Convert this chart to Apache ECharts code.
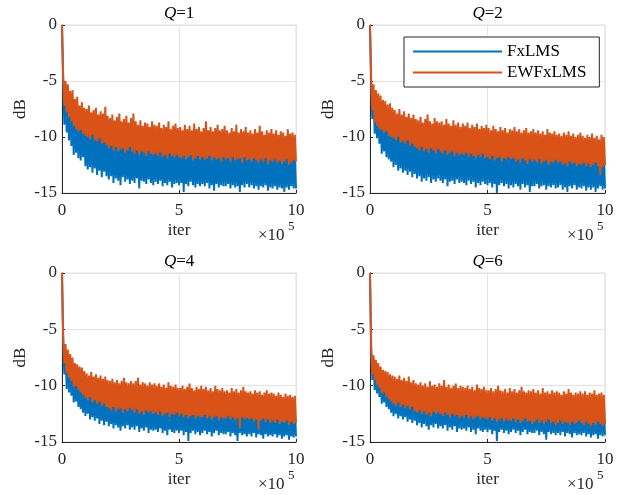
<!DOCTYPE html>
<html>
<head>
<meta charset="utf-8">
<script src="https://cdn.jsdelivr.net/npm/echarts@6/dist/echarts.min.js"></script>
<style>html,body{margin:0;padding:0;background:#fff;}#c{width:633px;height:495px;}</style>
</head>
<body>
<div id="c"></div>
<script>
// iteration (in thousands) for every sample
const iterK = [
0,5,10,15,20,25,30,35,40,45,50,55,60,65,70,75,80,85,90,95,
100,105,110,115,120,125,130,135,140,145,150,155,160,165,170,175,180,185,190,195,
200,205,210,215,220,225,230,235,240,245,250,255,260,265,270,275,280,285,290,295,
300,305,310,315,320,325,330,335,340,345,350,355,360,365,370,375,380,385,390,395,
400,405,410,415,420,425,430,435,440,445,450,455,460,465,470,475,480,485,490,495,
500,505,510,515,520,525,530,535,540,545,550,555,560,565,570,575,580,585,590,595,
600,605,610,615,620,625,630,635,640,645,650,655,660,665,670,675,680,685,690,695,
700,705,710,715,720,725,730,735,740,745,750,755,760,765,770,775,780,785,790,795,
800,805,810,815,820,825,830,835,840,845,850,855,860,865,870,875,880,885,890,895,
900,905,910,915,920,925,930,935,940,945,950,955,960,965,970,975,980,985,990,995,
1000];

const titles = ['Q=1','Q=2','Q=4','Q=6'];
const seriesNames = ['FxLMS','EWFxLMS'];
const xTicks = [0,5,10];
const yTicks = [0,-5,-10,-15];

const fx_Q1 = [
0,-5.0,-8.9,-5.7,-9.6,-6.2,-10.3,-6.8,-10.8,-7.2,-11.6,-7.6,-11.4,-7.9,-11.9,-8.1,-12.1,-8.4,-11.8,-8.7,
-12.6,-9.1,-12.9,-9.3,-12.7,-9.0,-13.2,-9.4,-12.8,-9.6,-13.4,-9.3,-13.0,-9.7,-13.6,-9.5,-13.1,-9.9,-13.5,-9.8,
-13.8,-10.1,-13.5,-10.3,-14.1,-10.0,-13.7,-10.4,-13.9,-10.2,-14.3,-10.5,-13.6,-10.3,-14.0,-10.1,-13.8,-10.6,-14.2,-10.4,
-13.9,-10.5,-14.1,-10.7,-13.7,-10.4,-14.6,-10.8,-13.9,-10.6,-14.0,-10.5,-14.2,-10.9,-13.8,-10.7,-14.1,-10.6,-14.3,-10.8,
-14.0,-10.7,-14.2,-10.9,-13.9,-10.8,-14.4,-10.6,-14.1,-11.0,-14.3,-10.8,-14.0,-10.9,-14.5,-10.7,-14.2,-11.0,-14.1,-10.9,
-14.3,-11.0,-14.1,-10.8,-14.9,-11.1,-14.2,-10.9,-14.4,-11.2,-14.0,-11.0,-14.3,-10.8,-14.5,-11.1,-14.2,-11.0,-14.4,-11.2,
-14.2,-11.0,-14.4,-11.2,-14.1,-10.9,-14.6,-11.1,-14.3,-11.3,-14.8,-11.0,-14.2,-11.2,-14.5,-11.1,-14.3,-11.3,-14.4,-11.0,
-14.4,-11.2,-14.2,-11.4,-14.6,-11.1,-14.3,-11.3,-14.5,-11.0,-14.4,-11.2,-14.9,-11.4,-14.3,-11.1,-14.5,-11.3,-14.2,-11.2,
-14.5,-11.3,-14.3,-11.1,-14.6,-11.4,-14.4,-11.2,-14.7,-11.3,-14.4,-11.5,-14.5,-11.2,-14.3,-11.4,-14.8,-11.3,-14.5,-11.1,
-14.6,-11.4,-14.4,-11.3,-14.7,-11.5,-14.5,-11.2,-14.6,-11.4,-14.9,-11.5,-14.5,-11.3,-14.7,-11.6,-14.4,-11.4,-14.6,-11.5,
-14.6];

const ewfx_Q1 = [
0,-4.5,-7.2,-5.0,-7.8,-5.3,-8.2,-5.9,-8.6,-5.8,-9.0,-6.6,-9.3,-6.4,-9.5,-7.2,-9.4,-6.9,-9.7,-7.4,
-9.9,-7.5,-10.0,-7.2,-10.2,-7.8,-9.8,-7.6,-10.3,-7.4,-10.4,-8.0,-10.1,-7.7,-10.6,-7.9,-10.5,-7.3,-10.7,-8.1,
-11.0,-8.3,-10.8,-8.0,-11.2,-8.5,-10.9,-8.2,-11.3,-7.9,-11.1,-8.6,-11.0,-8.4,-11.4,-8.1,-11.2,-8.7,-10.9,-8.3,
-11.3,-7.9,-11.5,-8.6,-11.2,-8.9,-11.6,-8.5,-11.3,-9.0,-11.4,-8.7,-11.7,-8.8,-11.3,-9.1,-11.5,-8.6,-11.6,-8.9,
-11.5,-9.0,-11.7,-8.7,-11.4,-9.2,-11.8,-8.9,-11.6,-9.1,-11.9,-8.6,-11.5,-9.3,-11.7,-9.0,-11.8,-8.8,-11.6,-9.2,
-11.8,-9.1,-11.9,-9.4,-11.7,-8.9,-12.0,-9.3,-11.8,-9.0,-11.6,-9.4,-12.1,-8.8,-11.9,-9.3,-11.7,-9.1,-12.0,-9.5,
-11.8,-9.2,-12.0,-8.6,-11.9,-9.4,-11.7,-9.1,-12.1,-9.5,-11.8,-9.2,-12.0,-8.9,-11.9,-9.4,-12.2,-9.3,-11.8,-9.0,
-12.0,-9.4,-11.9,-9.6,-12.2,-9.2,-11.8,-9.5,-12.1,-8.9,-12.0,-9.6,-11.9,-9.3,-12.3,-9.5,-11.8,-9.1,-12.1,-9.6,
-12.0,-9.4,-12.2,-9.7,-11.9,-9.3,-12.1,-9.6,-12.3,-9.0,-12.0,-9.5,-12.2,-9.8,-11.9,-9.4,-12.4,-9.6,-12.1,-9.3,
-12.2,-9.7,-12.0,-9.4,-12.3,-9.8,-12.1,-9.5,-12.4,-9.6,-12.2,-9.9,-12.0,-9.3,-12.5,-9.7,-12.3,-9.6,-12.1,-9.8,
-12.2];

const fx_Q2 = [
0,-5.5,-8.4,-6.2,-9.7,-6.9,-10.1,-7.3,-10.6,-7.7,-11.5,-8.2,-11.3,-8.5,-11.8,-8.7,-12.0,-8.9,-12.2,-9.1,
-12.7,-9.3,-12.5,-9.0,-13.0,-9.4,-12.8,-9.6,-13.2,-9.5,-13.0,-9.8,-13.4,-9.6,-13.1,-9.9,-13.6,-10.0,-13.3,-10.1,
-13.7,-10.2,-13.5,-10.0,-14.0,-10.3,-13.7,-10.4,-13.9,-10.2,-13.6,-10.5,-14.1,-10.3,-13.8,-10.6,-14.0,-10.4,-13.7,-10.5,
-13.9,-10.6,-14.1,-10.4,-13.8,-10.7,-14.4,-10.5,-14.0,-10.8,-13.9,-10.6,-14.2,-10.7,-13.8,-10.9,-14.1,-10.6,-14.0,-10.8,
-14.1,-10.7,-14.3,-10.9,-13.9,-10.8,-14.2,-11.0,-14.0,-10.8,-14.5,-10.9,-14.1,-11.0,-14.3,-10.7,-14.0,-11.1,-14.2,-10.9,
-14.3,-11.0,-14.1,-11.2,-14.5,-10.9,-14.2,-11.1,-15.0,-11.0,-14.3,-11.2,-14.1,-11.1,-14.4,-11.3,-14.2,-11.0,-14.6,-11.2,
-14.3,-11.2,-14.5,-11.0,-14.2,-11.3,-14.4,-11.1,-14.7,-11.3,-14.2,-11.2,-14.5,-11.4,-14.3,-11.1,-14.9,-11.3,-14.4,-11.2,
-14.4,-11.3,-14.2,-11.5,-14.6,-11.2,-14.4,-11.4,-14.3,-11.3,-14.7,-11.5,-14.4,-11.2,-14.5,-11.4,-14.3,-11.6,-14.6,-11.3,
-14.5,-11.4,-14.3,-11.6,-14.7,-11.3,-14.5,-11.5,-14.9,-11.4,-14.4,-11.6,-14.6,-11.5,-14.3,-11.7,-14.7,-11.4,-14.5,-11.6,
-14.6,-11.5,-14.4,-11.7,-14.8,-11.6,-14.5,-11.4,-14.7,-11.7,-14.5,-11.6,-14.9,-11.5,-14.6,-11.8,-14.4,-11.6,-14.7,-11.7,
-14.6];

const ewfx_Q2 = [
0,-4.8,-7.6,-5.3,-8.7,-5.8,-9.0,-6.1,-9.3,-6.3,-9.4,-6.7,-9.6,-6.8,-9.5,-7.1,-9.9,-7.0,-10.0,-7.4,
-10.1,-7.6,-10.3,-7.9,-10.0,-7.5,-10.5,-8.0,-10.4,-7.7,-10.6,-8.2,-10.3,-7.9,-10.8,-8.3,-10.6,-8.0,-10.9,-8.4,
-11.0,-8.5,-11.2,-8.2,-10.9,-8.7,-11.3,-8.4,-11.1,-8.0,-11.4,-8.6,-11.0,-8.8,-11.2,-8.3,-11.5,-8.6,-11.1,-8.7,
-11.3,-8.6,-11.5,-8.9,-11.2,-8.4,-11.6,-8.8,-11.4,-9.0,-11.3,-8.5,-11.7,-8.9,-11.4,-8.7,-11.6,-9.1,-11.5,-8.8,
-11.6,-9.0,-11.4,-8.7,-11.8,-9.2,-11.5,-8.9,-11.7,-9.1,-11.9,-8.8,-11.6,-9.3,-11.8,-9.0,-11.5,-9.2,-11.9,-8.9,
-11.8,-9.2,-12.0,-9.4,-11.7,-9.0,-12.1,-9.3,-11.9,-9.5,-11.8,-9.1,-12.2,-9.4,-11.9,-9.2,-12.0,-9.6,-11.8,-9.3,
-12.0,-9.4,-11.9,-9.1,-12.2,-9.5,-12.0,-9.3,-12.3,-9.6,-11.9,-9.4,-12.1,-9.2,-12.4,-9.6,-12.0,-9.5,-12.2,-9.3,
-12.1,-9.6,-12.3,-9.4,-12.0,-9.7,-12.4,-9.5,-12.2,-9.8,-12.1,-9.3,-12.5,-9.6,-12.2,-9.7,-12.3,-9.5,-12.1,-9.8,
-12.3,-9.7,-12.2,-9.9,-12.5,-9.6,-12.3,-9.8,-12.6,-9.5,-12.2,-9.9,-12.4,-9.7,-12.3,-10.0,-12.6,-9.8,-12.4,-9.6,
-12.5,-9.9,-12.3,-10.1,-12.6,-9.8,-12.4,-10.0,-12.7,-9.7,-12.5,-10.1,-12.3,-9.9,-12.6,-10.2,-13.4,-9.8,-12.7,-10.0,
-12.5];

const fx_Q4 = [
0,-6.0,-9.0,-6.9,-10.3,-7.5,-10.6,-8.0,-10.9,-8.3,-11.5,-8.8,-11.4,-9.0,-11.9,-9.3,-12.1,-9.5,-12.4,-9.7,
-12.7,-9.9,-12.5,-10.0,-13.0,-10.2,-12.8,-10.1,-13.1,-10.4,-12.9,-10.3,-13.4,-10.5,-13.1,-10.6,-13.5,-10.5,-13.2,-10.7,
-13.6,-10.8,-13.4,-10.9,-13.8,-10.7,-13.5,-11.0,-13.7,-10.9,-14.0,-11.0,-13.6,-11.1,-13.8,-10.9,-13.5,-11.1,-13.9,-11.2,
-13.7,-11.1,-13.9,-11.3,-13.6,-11.2,-14.1,-11.0,-13.8,-11.3,-14.0,-11.2,-13.7,-11.4,-14.2,-11.3,-13.9,-11.2,-14.0,-11.4,
-13.9,-11.3,-14.1,-11.5,-13.8,-11.4,-14.2,-11.3,-14.0,-11.5,-14.4,-11.4,-13.9,-11.6,-14.1,-11.5,-14.2,-11.4,-14.0,-11.6,
-14.2,-11.6,-14.0,-11.5,-14.4,-11.7,-14.1,-11.6,-14.9,-11.5,-14.2,-11.7,-14.0,-11.6,-14.3,-11.8,-14.1,-11.7,-14.4,-11.6,
-14.2,-11.8,-14.0,-11.7,-14.3,-11.9,-14.1,-11.8,-14.5,-11.7,-14.2,-11.9,-14.0,-11.8,-14.4,-12.0,-14.2,-11.8,-14.3,-11.9,
-14.3,-11.9,-14.1,-12.0,-14.5,-11.9,-14.2,-12.1,-14.4,-11.9,-14.9,-12.0,-14.2,-12.1,-14.4,-11.9,-14.3,-12.0,-14.5,-12.1,
-14.3,-12.0,-14.5,-12.1,-14.2,-12.2,-14.6,-12.0,-14.3,-12.1,-14.4,-12.2,-14.7,-12.1,-14.3,-12.2,-14.5,-12.0,-14.4,-12.2,
-14.5,-12.2,-14.3,-12.3,-14.6,-12.1,-14.4,-12.3,-14.7,-12.2,-14.5,-12.3,-14.4,-12.2,-14.8,-12.4,-14.5,-12.3,-14.6,-12.2,
-14.5];

const ewfx_Q4 = [
0,-5.5,-8.0,-6.3,-8.9,-6.8,-9.3,-7.2,-9.6,-7.5,-10.1,-8.0,-10.0,-8.1,-10.4,-8.3,-10.6,-8.4,-10.8,-8.7,
-11.1,-8.9,-11.3,-9.1,-11.0,-8.8,-11.5,-9.2,-11.3,-9.0,-11.6,-9.3,-11.4,-9.1,-11.8,-9.4,-11.6,-9.2,-11.9,-9.5,
-12.0,-9.6,-12.2,-9.4,-11.9,-9.7,-12.3,-9.5,-12.1,-9.8,-12.0,-9.6,-12.4,-9.3,-12.1,-9.7,-12.3,-9.8,-12.0,-9.6,
-12.2,-9.8,-12.4,-9.6,-12.1,-9.3,-12.5,-9.9,-12.3,-9.7,-12.6,-9.8,-12.2,-10.0,-12.4,-9.7,-12.3,-9.9,-12.5,-9.8,
-12.4,-10.0,-12.6,-9.8,-12.3,-10.1,-12.7,-9.9,-12.5,-10.2,-12.4,-9.7,-12.8,-10.0,-12.5,-10.1,-12.6,-9.9,-12.4,-10.2,
-12.7,-10.2,-12.5,-10.0,-12.8,-10.3,-12.6,-10.1,-12.9,-9.8,-12.7,-10.2,-12.6,-10.4,-12.9,-10.1,-12.7,-10.3,-12.8,-10.0,
-12.8,-10.3,-12.6,-10.1,-12.9,-10.4,-12.7,-10.2,-13.0,-10.5,-12.8,-10.0,-12.7,-10.3,-13.1,-10.4,-12.8,-10.2,-12.9,-10.5,
-12.9,-10.4,-12.7,-10.6,-13.0,-10.2,-12.8,-10.5,-13.1,-10.3,-12.9,-10.6,-13.8,-10.4,-12.8,-10.1,-13.0,-10.5,-12.9,-10.6,
-13.0,-10.5,-12.9,-10.7,-13.2,-10.4,-13.0,-10.6,-13.9,-10.5,-13.1,-10.8,-12.9,-10.6,-13.2,-10.4,-13.0,-10.7,-13.3,-10.6,
-13.1,-10.7,-13.3,-10.9,-13.0,-10.6,-13.4,-10.8,-13.2,-11.0,-13.3,-10.7,-13.1,-10.9,-13.5,-10.8,-13.2,-11.0,-13.4,-10.9,
-13.3];

const fx_Q6 = [
0,-7.0,-9.5,-7.7,-10.4,-8.2,-10.7,-8.6,-11.0,-8.9,-11.6,-9.3,-11.5,-9.5,-11.9,-9.7,-12.1,-9.9,-12.4,-10.0,
-12.7,-10.2,-12.5,-10.3,-12.9,-10.4,-12.7,-10.5,-13.0,-10.6,-12.8,-10.5,-13.2,-10.7,-13.0,-10.8,-13.3,-10.7,-13.1,-10.9,
-13.5,-11.0,-13.3,-10.9,-13.7,-11.1,-13.4,-11.0,-13.6,-11.2,-13.9,-11.1,-13.5,-11.0,-13.7,-11.2,-13.4,-11.1,-13.8,-11.2,
-13.6,-11.1,-13.8,-11.3,-13.5,-11.2,-14.0,-11.1,-13.7,-11.3,-13.9,-11.2,-13.6,-11.3,-14.1,-11.2,-13.8,-11.4,-13.9,-11.3,
-13.8,-11.3,-14.0,-11.4,-13.7,-11.3,-14.1,-11.4,-13.9,-11.5,-14.3,-11.4,-13.8,-11.3,-14.0,-11.5,-14.1,-11.4,-13.9,-11.5,
-14.1,-11.5,-13.9,-11.4,-14.3,-11.6,-14.0,-11.5,-14.9,-11.4,-14.1,-11.6,-13.9,-11.5,-14.2,-11.6,-14.0,-11.5,-14.3,-11.6,
-14.1,-11.6,-13.9,-11.5,-14.2,-11.7,-14.0,-11.6,-14.4,-11.5,-14.1,-11.7,-13.9,-11.6,-14.3,-11.7,-14.1,-11.6,-14.2,-11.7,
-14.2,-11.7,-14.0,-11.6,-14.4,-11.8,-14.1,-11.7,-14.3,-11.6,-14.8,-11.8,-14.1,-11.7,-14.3,-11.8,-14.2,-11.7,-14.4,-11.8,
-14.2,-11.8,-14.4,-11.7,-14.1,-11.9,-14.5,-11.8,-14.2,-11.7,-14.3,-11.9,-14.6,-11.8,-14.2,-11.9,-14.4,-11.8,-14.3,-11.9,
-14.4,-11.9,-14.2,-11.8,-14.5,-12.0,-14.3,-11.9,-14.6,-11.8,-14.4,-12.0,-14.3,-11.9,-14.7,-12.0,-14.4,-11.9,-14.5,-12.0,
-14.4];

const ewfx_Q6 = [
0,-6.5,-9.0,-7.3,-9.5,-7.7,-9.9,-8.0,-10.2,-8.3,-10.7,-8.6,-10.6,-8.7,-11.0,-8.8,-11.2,-9.0,-11.4,-9.1,
-11.6,-9.2,-11.8,-9.4,-11.5,-9.1,-11.9,-9.5,-11.7,-9.3,-12.0,-9.6,-11.8,-9.2,-12.1,-9.7,-11.9,-9.5,-12.3,-9.8,
-12.4,-9.9,-12.2,-9.7,-12.5,-10.0,-12.3,-9.8,-12.6,-10.1,-12.4,-9.6,-12.7,-10.0,-12.3,-9.9,-12.5,-10.1,-12.4,-9.8,
-12.5,-10.0,-12.7,-9.5,-12.4,-10.1,-12.6,-9.9,-12.8,-10.2,-12.5,-10.0,-12.7,-9.8,-12.6,-10.2,-12.9,-10.0,-12.7,-10.1,
-12.8,-10.2,-12.6,-10.0,-12.9,-10.3,-12.7,-10.1,-13.0,-10.4,-12.8,-9.9,-12.7,-10.2,-13.0,-10.3,-12.8,-10.1,-12.9,-10.4,
-13.0,-10.4,-12.8,-10.2,-13.1,-10.5,-12.9,-10.3,-13.2,-10.0,-13.0,-10.4,-12.9,-10.5,-13.2,-10.3,-13.0,-10.6,-13.1,-10.2,
-13.1,-10.5,-12.9,-10.3,-13.2,-10.6,-13.0,-10.4,-13.3,-10.1,-13.1,-10.5,-12.9,-10.6,-13.2,-10.4,-13.1,-10.5,-13.4,-10.3,
-13.2,-10.6,-13.0,-10.4,-13.3,-10.7,-13.1,-10.2,-13.4,-10.6,-13.2,-10.5,-13.0,-10.7,-13.3,-10.4,-13.2,-10.6,-13.5,-10.5,
-13.3,-10.6,-13.1,-10.8,-13.4,-10.5,-13.2,-10.7,-13.3,-10.3,-13.5,-10.6,-13.2,-10.8,-13.4,-10.6,-13.3,-10.7,-13.1,-10.5,
-13.3,-10.7,-13.5,-10.5,-13.2,-10.8,-13.4,-10.6,-13.6,-10.7,-13.3,-10.4,-13.5,-10.8,-13.2,-10.7,-13.4,-10.6,-13.6,-10.8,
-13.4];

const fxSets = [fx_Q1, fx_Q2, fx_Q4, fx_Q6];
const ewSets = [ewfx_Q1, ewfx_Q2, ewfx_Q4, ewfx_Q6];
[...fxSets, ...ewSets].forEach((a, k) => {
  if (a.length !== iterK.length) throw new Error('length mismatch in set ' + k + ': ' + a.length);
});

const FONT = 'Liberation Serif';
const DARK = '#262626';
const BLUE = '#0072BD';
const RED = '#D95319';

const grids = [
  {left: 62, top: 25, width: 234, height: 168},
  {left: 370, top: 25, width: 235, height: 168},
  {left: 62, top: 273, width: 234, height: 169},
  {left: 370, top: 273, width: 235, height: 169}
];

const pairs = a => iterK.map((x, i) => [x, a[i]]);

const option = {
  animation: false,
  backgroundColor: '#fff',
  grid: grids.map(g => Object.assign({show: true, borderColor: '#dedede', borderWidth: 1, backgroundColor: '#fff'}, g)),
  xAxis: grids.map((g, i) => ({
    gridIndex: i, type: 'value', min: 0, max: 1000, interval: 500,
    name: 'iter', nameLocation: 'middle', nameGap: 29,
    nameTextStyle: {fontFamily: FONT, fontSize: 17, color: DARK},
    axisLine: {show: true, onZero: false, lineStyle: {color: DARK, width: 1}},
    axisTick: {show: true, inside: true, length: 3, lineStyle: {color: DARK}},
    axisLabel: {margin: 9, fontFamily: FONT, fontSize: 17, color: DARK,
      formatter: v => String(xTicks[Math.round(v / 500)])},
    splitLine: {show: true, lineStyle: {color: '#e3e3e3', width: 1}}
  })),
  yAxis: grids.map((g, i) => ({
    gridIndex: i, type: 'value', min: -15, max: 0, interval: 5,
    name: 'dB', nameLocation: 'middle', nameGap: 33, nameRotate: 90,
    nameTextStyle: {fontFamily: FONT, fontSize: 17, color: DARK},
    axisLine: {show: true, onZero: false, lineStyle: {color: DARK, width: 1}},
    axisTick: {show: true, inside: true, length: 3, lineStyle: {color: DARK}},
    axisLabel: {margin: 5, fontFamily: FONT, fontSize: 17, color: DARK,
      formatter: v => String(yTicks[Math.round(-v / 5)])},
    splitLine: {show: true, lineStyle: {color: '#e3e3e3', width: 1}}
  })),
  legend: {
    data: seriesNames, orient: 'vertical', left: 404, top: 37,
    icon: 'rect', itemWidth: 89, itemHeight: 2, itemGap: 4,
    padding: [6, 13, 6, 9],
    backgroundColor: '#fff', borderColor: DARK, borderWidth: 1, borderRadius: 0,
    textStyle: {fontFamily: FONT, fontSize: 17, color: '#000', padding: [0, 0, 0, 0]},
    selectedMode: false
  },
  series: [],
  graphic: []
};

for (let i = 0; i < 4; i++) {
  option.series.push({
    name: seriesNames[0], type: 'line', xAxisIndex: i, yAxisIndex: i,
    data: pairs(fxSets[i]), showSymbol: false, symbol: 'none',
    lineStyle: {color: BLUE, width: 2}, itemStyle: {color: BLUE}, z: 2
  });
  option.series.push({
    name: seriesNames[1], type: 'line', xAxisIndex: i, yAxisIndex: i,
    data: pairs(ewSets[i]), showSymbol: false, symbol: 'none',
    lineStyle: {color: RED, width: 2}, itemStyle: {color: RED}, z: 3
  });
  const g = grids[i];
  const cx = g.left + g.width / 2;
  const q = titles[i].split('=');
  option.graphic.push({
    type: 'text', left: cx - 15, top: g.top - 20, z: 10,
    style: {text: '{q|' + q[0] + '}{n|=' + q[1] + '}', fill: '#000',
      rich: {q: {fontFamily: FONT, fontSize: 17, fontStyle: 'italic', fill: '#000'},
             n: {fontFamily: FONT, fontSize: 17, fill: '#000'}}}
  });
  option.graphic.push({
    type: 'text', left: g.left + g.width - 38, top: g.top + g.height + 34, z: 10,
    style: {text: '×10', fontFamily: FONT, fontSize: 17, fill: DARK}
  });
  option.graphic.push({
    type: 'text', left: g.left + g.width - 8, top: g.top + g.height + 27, z: 10,
    style: {text: '5', fontFamily: FONT, fontSize: 13, fill: DARK}
  });
}

const chart = echarts.init(document.getElementById('c'), null, {renderer: 'canvas'});
chart.setOption(option);
</script>
</body>
</html>
